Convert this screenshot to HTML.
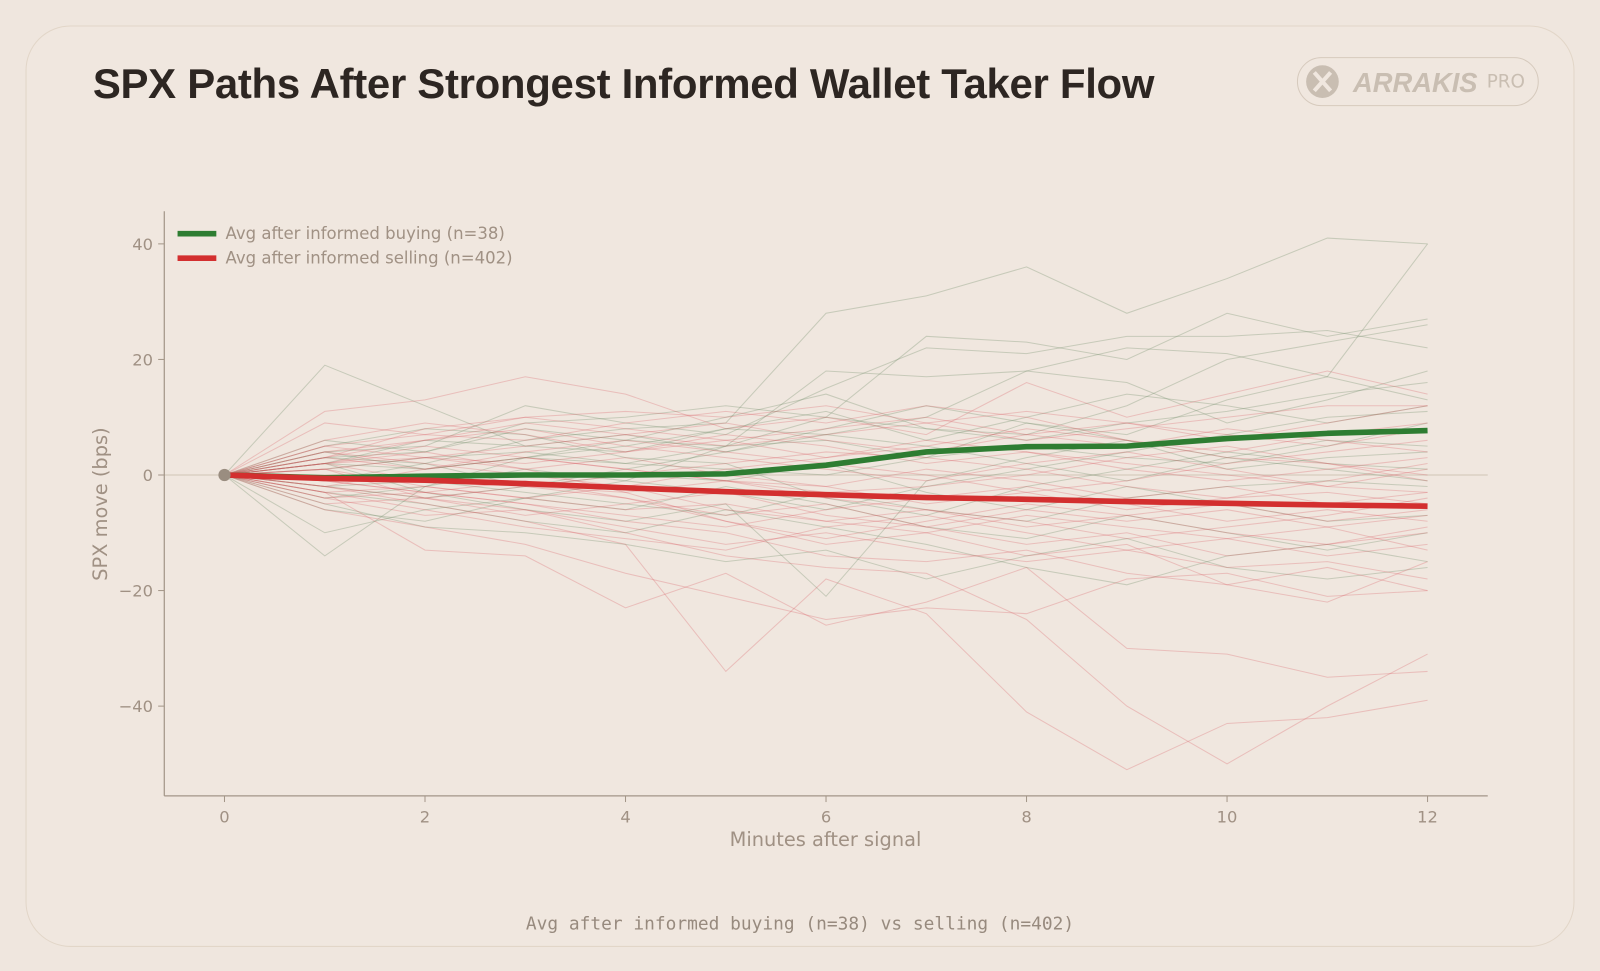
<!DOCTYPE html>
<html><head><meta charset="utf-8">
<style>
html,body{margin:0;padding:0;background:#efe6de;}
body{width:1600px;height:971px;position:relative;overflow:hidden;font-family:"DejaVu Sans","Liberation Sans",sans-serif;}
#wrap{position:absolute;left:0;top:0;width:1568px;height:952px;transform:scale(1.020408);transform-origin:0 0;}
.card{position:absolute;left:25px;top:25px;width:1518px;height:903px;box-sizing:border-box;border:1.5px solid #e2d6c8;border-radius:44px;background:#f0e7df;}
h1{position:absolute;left:91px;top:59px;margin:0;font-family:"Liberation Sans",sans-serif;font-weight:bold;font-size:41.1px;color:#2d2622;letter-spacing:-0.3px;}
.logo{position:absolute;left:1271px;top:56px;width:237px;height:48px;box-sizing:border-box;border:1.5px solid #d6cabd;border-radius:25px;}
.foot{position:absolute;left:0;width:1568px;top:896px;text-align:center;font-family:"DejaVu Sans Mono","Liberation Mono",monospace;font-size:17.5px;color:#978a7e;}
svg{position:absolute;left:0;top:0;}
</style></head>
<body>
<div id="wrap">
<div class="card"></div>
<h1>SPX Paths After Strongest Informed Wallet Taker Flow</h1>
<div class="logo">
<svg width="237" height="48">
<circle cx="24" cy="23" r="16" fill="#c9beb2"/>
<path d="M16 14 L32 32 M32 14 L16 32" stroke="#f0e7df" stroke-width="4"/>
<text x="54" y="33" font-family="Liberation Sans, sans-serif" font-weight="bold" font-style="italic" font-size="27" fill="#c9beb2" textLength="122" lengthAdjust="spacingAndGlyphs">ARRAKIS</text>
<text x="185" y="29" font-family="DejaVu Sans, sans-serif" font-size="18" fill="#c9beb2">PRO</text>
</svg></div>
<svg id="chart" width="1568" height="952"></svg>
<div class="foot">Avg after informed buying (n=38) vs selling (n=402)</div>
</div>
<script>
const minutes=[0,1,2,3,4,5,6,7,8,9,10,11,12];
const xTicks=[0,2,4,6,8,10,12];
const yTicks=[40,20,0,-20,-40];
const avgBuy=[0,-0.5,-0.2,0,0,0.2,1.7,4,4.9,5,6.3,7.2,7.7];
const avgSell=[0,-0.6,-0.9,-1.5,-2.2,-2.9,-3.4,-3.9,-4.2,-4.6,-4.9,-5.2,-5.4];
const buyPaths=[
[0,2,1,3,2,5,6,3,9,7,13,17,40],
[0,-1,2,6,8,9,28,31,36,28,34,41,40],
[0,4,5,12,9,7,15,22,21,24,24,25,22],
[0,3,4,8,6,5,10,24,23,20,28,24,27],
[0,19,12,5,4,8,7,10,18,22,21,17,13],
[0,-14,-2,3,6,10,14,8,7,12,20,23,26],
[0,-10,-6,-4,-1,5,18,17,18,16,9,13,18],
[0,2,-3,-6,-8,-5,-21,-1,3,6,1,3,4],
[0,5,8,7,3,2,-4,-7,-2,1,4,2,1],
[0,-3,-5,-8,-10,-6,-9,-12,-16,-19,-14,-12,-15],
[0,1,3,4,2,1,0,3,5,3,2,5,9],
[0,-2,-1,-3,-5,-7,-3,-6,-8,-4,-2,-1,-2],
[0,6,4,9,10,12,10,8,6,9,11,14,16],
[0,-5,-9,-10,-12,-15,-13,-18,-14,-11,-16,-18,-16],
[0,3,2,-2,1,4,7,5,2,-1,3,6,5],
[0,-4,-2,1,-1,-3,-6,-2,1,4,7,10,11],
[0,2,6,5,7,4,8,12,9,6,3,1,-1],
[0,-6,-8,-4,-6,-2,-5,-9,-11,-7,-10,-13,-10],
[0,4,1,3,5,8,11,6,10,14,12,9,12],
[0,-2,-4,-2,0,-1,2,-3,-6,-2,-5,-8,-7]
];
const sellPaths=[
[0,11,13,17,14,8,10,7,16,10,14,18,14],
[0,3,8,10,11,10,12,9,6,8,10,12,12],
[0,5,7,6,9,11,9,12,10,6,4,7,9],
[0,-3,-13,-14,-23,-17,-26,-22,-16,-30,-31,-35,-34],
[0,-2,-5,-8,-12,-34,-18,-24,-41,-51,-43,-42,-39],
[0,1,-4,-6,-10,-14,-16,-17,-25,-40,-50,-40,-31],
[0,-6,-9,-12,-17,-21,-25,-23,-24,-18,-17,-21,-20],
[0,2,4,1,-3,-8,-12,-10,-14,-12,-19,-22,-15],
[0,-1,-3,-5,-7,-9,-6,-4,-2,-5,-8,-6,-8],
[0,4,6,8,5,3,1,-1,2,4,1,-2,-3],
[0,-3,-2,-4,-6,-5,-8,-10,-7,-9,-11,-14,-12],
[0,2,-1,-2,0,2,4,3,1,-2,-4,-3,-5],
[0,9,7,10,8,6,3,5,8,6,3,2,0],
[0,-4,-7,-6,-9,-12,-10,-13,-15,-13,-16,-15,-18],
[0,1,3,2,4,7,5,2,4,1,-1,1,3],
[0,-2,-4,-7,-5,-3,-7,-9,-6,-8,-6,-9,-7],
[0,3,1,4,6,4,2,0,-3,-1,2,4,6],
[0,-5,-4,-2,-4,-8,-11,-8,-5,-7,-10,-12,-10],
[0,6,9,7,4,6,8,10,7,5,8,6,4],
[0,-1,0,-2,-3,-1,-4,-6,-8,-11,-9,-7,-4],
[0,2,5,3,1,-1,-3,-2,0,3,5,2,-1],
[0,-3,-6,-9,-11,-13,-9,-7,-10,-13,-11,-9,-13],
[0,4,2,0,-2,1,3,6,4,2,0,-2,1],
[0,-2,1,3,1,-1,-2,-5,-3,-6,-4,-1,2],
[0,1,-2,-4,-2,-6,-8,-6,-9,-7,-5,-8,-6],
[0,3,6,9,7,9,6,4,7,9,7,5,8],
[0,-4,-3,-5,-8,-10,-14,-15,-13,-17,-19,-16,-20],
[0,2,3,5,7,5,7,9,11,9,6,9,12],
[0,-1,-3,-1,-4,-7,-5,-9,-12,-10,-14,-12,-9],
[0,5,3,1,3,0,-2,1,-1,-4,-2,-5,-3]
];
const svg=document.getElementById('chart');
const NS='http://www.w3.org/2000/svg';
const X0=220,XS=(1399-220)/12,Y0=465.5,YS=(692-239)/80;
function xs(v){return X0+v*XS;}
function ys(v){return Y0-v*YS;}
function el(t,a,p){const e=document.createElementNS(NS,t);for(const k in a)e.setAttribute(k,a[k]);(p||svg).appendChild(e);return e;}
function pts(arr){return arr.map((v,i)=>xs(minutes[i]).toFixed(1)+','+ys(v).toFixed(1)).join(' ');}
const axc='#a39688',txc='#a09184';
const zl=el('line',{x1:161,x2:1458,y1:ys(0),y2:ys(0),stroke:'#cfc4b6','stroke-width':1});


buyPaths.forEach((p,i)=>{const l=el('polyline',{points:pts(p),fill:'none',stroke:'rgba(105,135,100,0.3)','stroke-width':1});

});
sellPaths.forEach((p,i)=>{const l=el('polyline',{points:pts(p),fill:'none',stroke:'rgba(215,85,95,0.28)','stroke-width':1});

});
const gb=el('polyline',{points:pts(avgBuy),fill:'none',stroke:'#2e7d32','stroke-width':5.5,'stroke-linejoin':'round'});


const rs=el('polyline',{points:pts(avgSell),fill:'none',stroke:'#d32f2f','stroke-width':5.5,'stroke-linejoin':'round'});


const dot=el('circle',{cx:xs(0),cy:ys(0),r:6,fill:'#9a8d80'});


const ya=el('line',{x1:161,x2:161,y1:207,y2:780,stroke:axc,'stroke-width':1.2});


const xa=el('line',{x1:161,x2:1458,y1:780,y2:780,stroke:axc,'stroke-width':1.2});


xTicks.forEach(t=>{el('line',{x1:xs(t),x2:xs(t),y1:780,y2:786,stroke:axc});
const tx=el('text',{x:xs(t),y:806,'text-anchor':'middle','font-size':16,fill:txc});tx.textContent=t;

});
yTicks.forEach(t=>{el('line',{x1:155,x2:161,y1:ys(t),y2:ys(t),stroke:axc});
const tx=el('text',{x:150,y:ys(t)+6,'text-anchor':'end','font-size':16,fill:txc});tx.textContent=t<0?'\u2212'+(-t):t;

});
const xt=el('text',{x:809,y:829,'text-anchor':'middle','font-size':19,fill:txc});xt.textContent='Minutes after signal';


const yt=el('text',{x:0,y:0,'text-anchor':'middle','font-size':19,fill:txc,transform:'translate(105,494) rotate(-90)'});yt.textContent='SPX move (bps)';


[['#2e7d32','Avg after informed buying (n=38)',229],['#d32f2f','Avg after informed selling (n=402)',253]].forEach((d,i)=>{
const g=el('g',{});


el('line',{x1:174,x2:212,y1:d[2],y2:d[2],stroke:d[0],'stroke-width':5.5},g);
const t=el('text',{x:221,y:d[2]+5,'font-size':16.2,fill:txc},g);t.textContent=d[1];});
</script>
</body></html>
